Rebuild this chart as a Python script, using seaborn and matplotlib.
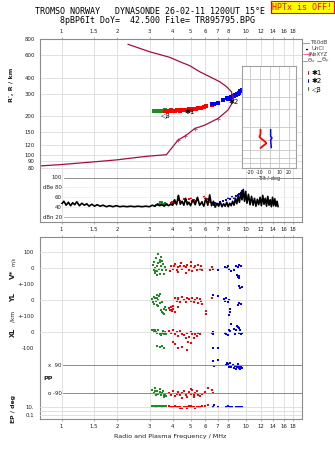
import matplotlib
matplotlib.use("Agg")
import matplotlib.pyplot as plt
import matplotlib.transforms as mtrans
from matplotlib.lines import Line2D
from matplotlib.ticker import NullLocator
import seaborn as sns

sns.set_theme(style="white")
plt.rcParams['font.family'] = ['DejaVu Sans']

# ---------------- data ----------------
freq_ticks = [1, 1.5, 2, 3, 4, 5, 6, 7, 8, 10, 12, 14, 16, 18]
freq_labels = ["1", "1.5", "2", "3", "4", "5", "6", "7", "8", "10", "12", "14", "16", "18"]
height_ticks = [80, 90, 100, 120, 150, 200, 300, 400, 600, 800]
height_labels = ["80", "90", "100", "120", "150", "200", "300", "400", "600", "800"]

# real-height profile (MHz, km)
prof_f = [0.76, 1.0, 1.5, 2.0, 2.49, 3.0, 3.7, 4.28, 4.75, 5.27, 5.97, 7.06, 7.98, 8.49, 8.55,
          8.4, 8.33, 7.83, 7.2, 6.35, 5.6, 4.95, 4.37, 3.85, 3.0, 2.29]
prof_h = [82.5, 84.6, 88.8, 92, 95.6, 98.5, 100.8, 131, 143, 161, 171, 193, 224, 260, 278,
          293, 310, 340, 371, 406, 444, 494, 531, 574, 634, 724]
nexyz_f = [4.28, 4.65, 5.27, 7.06]
nexyz_h = [131, 141, 159, 191]

# ionogram traces (MHz, km)
tr3_f = [3.15, 3.2, 3.25, 3.3, 3.35, 3.4, 3.45, 3.5, 3.55, 3.6, 3.65]
tr3_h = [219, 220, 219, 221, 220, 219, 221, 220, 222, 221, 223]
tr1_f = [3.65, 3.7, 3.75, 3.8, 3.85, 3.9, 3.95, 4.0, 4.1, 4.2, 4.3, 4.4, 4.5, 4.6, 4.7, 4.8,
         4.9, 5.0, 5.1, 5.2, 5.35, 5.5, 5.7, 5.9, 6.1, 6.55, 6.65]
tr1_h = [221, 222, 220, 222, 221, 223, 222, 221, 222, 224, 223, 222, 225, 224, 226, 225,
         227, 226, 228, 229, 230, 231, 234, 238, 240, 246, 248]
tr2_f = [6.56, 6.7, 7.06, 7.5, 7.88, 8.0, 8.1, 8.2, 8.3, 8.4, 8.5, 8.6, 8.7, 8.8, 8.9, 9.0,
         9.1, 9.2, 9.3, 9.4, 9.45]
tr2_h = [249, 251, 255, 266, 276, 272, 279, 275, 285, 282, 290, 287, 295, 292, 300, 298,
         306, 304, 312, 316, 322]

# tilt profiles (deg, km)
tiltx_deg = [-9.5, -9.5, -10.5, -8.8, -4.2, -3.5, -7.0, -9.5]
tiltx_h = [190, 171, 161, 155, 143, 139, 131, 125]
tilty_deg = [1.0, 1.0, 2.4, 1.0, 1.7]
tilty_h = [190, 163, 157, 150, 126]

# amplitude (MHz, dB)
amp_freq = [1.00, 1.03, 1.06, 1.09, 1.12, 1.15, 1.18, 1.21, 1.25, 1.29, 1.33, 1.37, 1.41, 1.46,
            1.51, 1.56, 1.62, 1.68, 1.75, 1.82, 1.90, 1.98, 2.07, 2.16, 2.26, 2.37, 2.48, 2.60,
            2.73, 2.86, 3.00, 3.10, 3.20, 3.30, 3.40, 3.50, 3.60, 3.70, 3.80, 3.90, 4.00, 4.10,
            4.20, 4.30, 4.40, 4.50, 4.60, 4.70, 4.80, 4.90, 5.00, 5.15, 5.30, 5.45, 5.60, 5.75,
            5.90, 6.05, 6.20, 6.35, 6.50, 6.65, 6.80, 6.95, 7.10, 7.25, 7.40, 7.55, 7.70, 7.85,
            8.00, 8.15, 8.30, 8.45, 8.60, 8.75, 8.90, 9.05, 9.20, 9.35, 9.50, 9.65, 9.80, 9.95,
            10.1, 10.3, 10.5, 10.7, 10.9, 11.1, 11.3, 11.5, 11.7, 11.9, 12.1, 12.3, 12.5, 12.7,
            12.9, 13.1, 13.3, 13.5, 13.7, 13.9, 14.1, 14.3, 14.5, 14.7, 14.9]
amp_db = [46, 52, 44, 50, 43, 49, 45, 51, 43, 48, 44, 47, 42, 46,
          42, 45, 42, 44, 41, 43, 41, 43, 41, 42, 41, 42, 41, 42,
          41, 42, 41, 44, 42, 46, 43, 45, 42, 47, 43, 46, 44, 55,
          45, 64, 46, 52, 44, 58, 45, 50, 43, 55, 45, 60, 44, 50,
          42, 58, 44, 65, 43, 52, 40, 48, 42, 50, 41, 47, 42, 50,
          41, 48, 43, 52, 44, 58, 47, 62, 50, 70, 55, 76, 52, 72,
          48, 66, 45, 62, 44, 58, 42, 56, 45, 60, 43, 64, 46, 58,
          42, 62, 44, 55, 41, 60, 43, 57, 42, 52, 41]
db3_f = [3.2, 3.25, 3.3, 3.35, 3.4, 3.45, 3.5, 3.55, 3.6, 3.65, 3.7, 3.75, 3.5, 3.4]
db3_v = [43, 45, 44, 47, 46, 48, 49, 47, 45, 48, 46, 44, 51, 50]
db1_f = [3.9, 3.95, 4.0, 4.05, 4.1, 4.25, 4.3, 4.4, 4.5, 4.6, 4.7, 4.8, 4.9, 5.0, 5.1, 5.2,
         5.3, 5.4, 5.5, 5.8, 5.9, 6.0, 6.2, 6.3, 6.4, 6.5]
db1_v = [48, 50, 47, 52, 49, 55, 60, 53, 51, 57, 54, 50, 56, 58, 53, 55,
         52, 57, 54, 51, 60, 58, 56, 52, 50, 48]
db2_f = [6.7, 6.8, 7.0, 7.2, 7.5, 7.8, 8.0, 8.2, 8.4, 8.6, 8.8, 9.0, 9.2, 9.4, 9.5]
db2_v = [44, 48, 46, 50, 52, 55, 58, 57, 60, 59, 63, 64, 66, 69, 72]

# V* (m/s)
v3_f = [3.12, 3.15, 3.18, 3.2, 3.22, 3.25, 3.28, 3.3, 3.32, 3.35, 3.38, 3.4, 3.42, 3.45, 3.48,
        3.5, 3.55, 3.6, 3.65, 3.7, 3.3, 3.4, 3.2, 3.5]
v3_v = [20, -10, 40, 0, -30, 60, 10, -20, 85, 30, -5, 50, -35, 15, 70,
        -15, 25, -40, 5, -10, -45, 35, -20, 45]
v1_f = [3.85, 3.9, 4.0, 4.05, 4.1, 4.2, 4.25, 4.3, 4.4, 4.45, 4.5, 4.6, 4.7, 4.75, 4.8, 4.9,
        5.0, 5.05, 5.1, 5.2, 5.3, 5.4, 5.5, 5.6, 5.7, 5.8, 6.4, 6.5]
v1_v = [-20, 10, -5, 15, 25, -10, 5, -25, 10, 30, -5, 15, -30, 5, 20, -15,
        10, 40, -20, 0, 15, -10, 20, -5, 10, -15, -15, 5]
v2_f = [6.6, 7.0, 7.7, 7.9, 8.0, 8.1, 8.3, 8.6, 8.8, 9.0, 9.2, 9.4, 8.9, 9.0, 9.1, 9.2]
v2_v = [-5, -10, 5, 0, 15, -5, -20, -10, 10, 5, 20, 15, -45, -55, -62, -50]

# YL (km)
yl3_f = [3.1, 3.12, 3.15, 3.18, 3.2, 3.25, 3.28, 3.3, 3.32, 3.35, 3.38, 3.4, 3.45, 3.5, 3.55,
         3.6, 3.65, 3.7, 3.4, 3.3, 3.5, 3.6]
yl3_v = [5, -10, 20, -25, 10, -5, 30, 15, -40, 0, 25, -20, -60, -75, -80,
         -55, -45, -65, 35, -30, -15, -85]
yl1_f = [3.8, 3.85, 3.9, 3.95, 4.0, 4.1, 4.2, 4.25, 4.3, 4.4, 4.5, 4.6, 4.7, 4.8, 4.9, 5.0,
         5.1, 5.2, 5.3, 5.4, 5.5, 5.6, 5.7, 5.8, 6.05, 6.1, 3.9, 4.0, 4.1, 4.3, 6.5]
yl1_v = [-50, -60, -45, -70, -55, 10, -5, 15, 5, -10, 20, 0, -15, 10, 5, -5,
         15, -10, 0, 10, -20, 5, -5, -25, -70, -90, -65, -40, -75, -45, 10]
yl2_f = [6.6, 7.0, 7.6, 7.7, 7.8, 8.0, 8.1, 8.2, 8.15, 8.1, 9.0, 9.2, 9.4, 9.1, 9.3, 9.5]
yl2_v = [30, 28, 5, -5, 10, -15, 0, -55, -75, -92, -30, -20, -25, 85, 78, 82]

# XL (km)
xl3_f = [3.1, 3.12, 3.15, 3.2, 3.25, 3.3, 3.35, 3.4, 3.45, 3.5, 3.55, 3.6, 3.65, 3.7,
         3.3, 3.4, 3.5, 3.6]
xl3_v = [15, 10, 5, 12, 0, -5, 10, -10, -20, -5, 5, -15, 0, -10,
         -85, -95, -90, -100]
xl1_f = [3.8, 3.9, 4.0, 4.1, 4.2, 4.3, 4.4, 4.5, 4.6, 4.7, 4.8, 4.9, 5.0, 5.1, 5.2, 5.3,
         5.4, 5.5, 5.6, 6.5, 4.0, 4.1, 4.3, 4.5, 4.8, 4.85, 5.0]
xl1_v = [5, -5, 10, -15, 0, -25, 5, -10, -20, -35, -5, -30, 0, -15, -40, -10,
         -25, -5, -15, -5, -60, -75, -100, -95, -110, -60, -70]
xl2_f = [6.6, 6.65, 7.7, 7.8, 8.0, 8.1, 8.2, 8.3, 8.6, 8.7, 8.8, 8.9, 9.0, 9.1, 9.2, 9.3,
         9.4, 9.5, 6.65, 7.0]
xl2_v = [-10, 0, -5, -15, -20, 10, 5, 52, 20, -10, 15, 35, 30, 25, -5, 10,
         -15, -5, -102, -102]

# PP (deg)
pp3_f = [3.1, 3.15, 3.2, 3.25, 3.3, 3.35, 3.4, 3.45, 3.5, 3.55, 3.6, 3.65, 3.7, 3.2, 3.4, 3.6]
pp3_v = [-70, -90, -80, -100, -75, -95, -85, -105, -90, -80, -100, -95, -110, -60, -65, -115]
pp1_f = [3.8, 3.9, 4.0, 4.1, 4.2, 4.3, 4.4, 4.5, 4.6, 4.7, 4.8, 4.9, 5.0, 5.1, 5.2, 5.3,
         5.4, 5.5, 5.6, 5.8, 6.0, 6.2, 6.5, 6.6, 4.5, 5.0, 5.2]
pp1_v = [-90, -100, -80, -110, -95, -85, -105, -90, -75, -100, -115, -85, -95, -70, -105, -90,
         -80, -100, -110, -95, -85, -60, -70, -90, -120, -65, -115]
pp2_f = [6.6, 6.7, 7.0, 7.8, 7.9, 8.0, 8.1, 8.2, 8.3, 8.5, 8.6, 8.7, 8.8, 8.9, 9.0, 9.1,
         9.2, 9.3, 9.4, 9.5]
pp2_v = [115, 85, 120, 90, 105, 95, 80, 100, 75, 90, 70, 85, 65, 80, 95, 70,
         75, 65, 80, 70]

# EP (deg)
ep3_f = [3.1, 3.15, 3.2, 3.25, 3.3, 3.35, 3.4, 3.45, 3.5, 3.55, 3.6, 3.65, 3.7]
ep3_v = [14, 15, 14, 13, 15, 14, 14, 15, 13, 14, 15, 14, 14]
ep1_f = [3.8, 3.9, 4.0, 4.1, 4.2, 4.3, 4.4, 4.5, 4.6, 4.7, 4.8, 4.9, 5.0, 5.1, 5.2, 5.3,
         5.4, 5.5, 5.6, 5.8, 6.0, 6.2, 4.4, 4.8, 5.0]
ep1_v = [14, 12, 8, 15, 10, 9, 13, 7, 11, 12, 8, 14, 10, 9, 12, 7,
         11, 13, 10, 15, 16, 25, 6, 7, 20]
ep2_f = [6.6, 6.7, 7.0, 7.8, 8.0, 8.2, 8.4, 8.8, 8.9, 9.0, 9.1, 9.2, 9.3, 9.4, 9.5]
ep2_v = [13, 30, 12, 13, 14, 12, 13, 11, 10, 12, 9, 11, 10, 12, 13]

# ---------------- styling ----------------
RED, BLUE, GREEN = "#ff0000", "#0000ff", "#1e8c1e"
PROF = "#a50f3c"
PINK = "#e0609a"
GRID = "#dcdcdc"
SPINE = "#8c8c8c"
TXT = "#202020"
TICKFS = 3.9

W, H = 335, 451
fig = plt.figure(figsize=(W / 100, H / 100), dpi=100)
fig.patch.set_facecolor("white")


def add_ax(x0, y0, x1, y1):
    return fig.add_axes([x0 / W, 1 - y1 / H, (x1 - x0) / W, (y1 - y0) / H])


def freq_axis(ax, top=False, bottom=False):
    ax.set_xscale("log")
    ax.set_xlim(0.76, 20)
    ax.set_xticks(freq_ticks)
    ax.set_xticklabels(freq_labels)
    ax.xaxis.set_minor_locator(NullLocator())
    ax.tick_params(axis="x", which="both", top=True, bottom=True, labeltop=top,
                   labelbottom=bottom, length=1.5, width=0.5, color=SPINE,
                   labelsize=TICKFS, labelcolor=TXT, pad=2)


def frame(ax):
    for s in ax.spines.values():
        s.set_color(SPINE)
        s.set_linewidth(0.8)
        s.set_visible(True)


def blank(ax):
    ax.patch.set_alpha(0)
    for s in ax.spines.values():
        s.set_visible(False)


def pts(ax, x, y, c, s=3.5):
    sns.scatterplot(x=x, y=y, color=c, marker="s", s=s, linewidth=0, ax=ax,
                    legend=False, clip_on=False)


# ---------------- top panel ----------------
ax = add_ax(39.5, 38.7, 301.7, 221.7)
freq_axis(ax, top=True, bottom=True)
ax.set_yscale("log")
ax.set_ylim(30.5, 800)
ax.set_yticks(height_ticks)
ax.set_yticklabels(height_labels)
ax.yaxis.set_minor_locator(NullLocator())
ax.tick_params(axis="y", length=1.5, width=0.5, color=SPINE, labelsize=TICKFS,
               labelcolor=TXT, pad=2)
ax.grid(True, color=GRID, lw=0.6)
frame(ax)

sns.lineplot(x=prof_f, y=prof_h, sort=False, estimator=None, color=PROF, lw=0.9, ax=ax)
sns.scatterplot(x=nexyz_f, y=nexyz_h, marker="+", color=PINK, s=10, linewidth=0.7,
                ax=ax, legend=False)
pts(ax, tr3_f, tr3_h, GREEN, 6)
pts(ax, tr1_f, tr1_h, RED, 6)
pts(ax, tr2_f, tr2_h, BLUE, 6)
ax.text(4.65, 215, "✱1", fontsize=5, color="black", va="center", ha="left")
ax.text(8.06, 258, "✱2", fontsize=5, color="black", va="center", ha="left")
ax.text(3.47, 205, "◁3", fontsize=5, color="black", va="center", ha="left")
ax.set_xlabel("")
ax.set_ylabel("")

# tilt inset
ins = add_ax(241.7, 66, 295.7, 168)
ins.set_facecolor("white")
ins.set_yscale("log")
ins.set_ylim(79.6, 491)
ins.set_xlim(-29, 27)
ins.set_yticks(height_ticks)
ins.yaxis.set_minor_locator(NullLocator())
ins.set_xticks([-20, -10, 0, 10, 20])
ins.set_xticklabels(["-20", "-10", "0", "10", "20"])
ins.tick_params(axis="both", length=0, labelleft=False, labelsize=3.4, pad=1.5,
                labelcolor=TXT)
ins.grid(True, color="#c8c8c8", lw=0.6)
for s in ins.spines.values():
    s.set_color("#a0a0a0")
    s.set_linewidth(0.8)
sns.lineplot(x=tiltx_deg, y=tiltx_h, sort=False, estimator=None, color=RED, lw=1.3, ax=ins)
sns.lineplot(x=tilty_deg, y=tilty_h, sort=False, estimator=None, color=BLUE, lw=1.1, ax=ins)
ins.set_ylabel("")
ins.set_xlabel("Tilt / deg", fontsize=3.6, labelpad=0.5, color=TXT)

# dB panel (overlay)
adb = add_ax(39.5, 171.5, 301.7, 221.7)
blank(adb)
adb.set_xscale("log")
adb.set_xlim(0.76, 20)
adb.set_ylim(10.5, 112.5)
adb.set_xticks([])
adb.set_yticks([])
x0f = (64 - 39.5) / 262.2
adb.axhline(100, xmin=x0f, color="#909090", lw=0.7)
for lv in (80, 60, 40):
    adb.axhline(lv, xmin=x0f, color="#ececec", lw=0.5)
adb.axhline(20, xmin=x0f, color="#b4b4e6", lw=0.7)
bt = mtrans.blended_transform_factory(adb.transAxes, adb.transData)
for lv, lab in zip([100, 80, 60, 40, 20], ["100", "dBe 80", "60", "40", "dBn 20"]):
    adb.text((62 - 39.5) / 262.2, lv, lab, transform=bt, ha="right", va="center",
             fontsize=TICKFS, color=TXT,
             bbox=dict(boxstyle="square,pad=0.05", fc="white", ec="none"))
sns.lineplot(x=amp_freq, y=amp_db, sort=False, estimator=None, color="black", lw=1.2, ax=adb)
pts(adb, db3_f, db3_v, GREEN)
pts(adb, db1_f, db1_v, RED)
pts(adb, db2_f, db2_v, BLUE)
adb.set_xlabel("")
adb.set_ylabel("")

# ---------------- lower panel ----------------
lo = add_ax(39.5, 237.3, 301.7, 419)
freq_axis(lo, top=False, bottom=True)
lo.set_yticks([])
lo.grid(True, axis="x", color=GRID, lw=0.6)
frame(lo)
lo.set_xlabel("Radio and Plasma Frequency / MHz", fontsize=4.6, color=TXT, labelpad=4)


def band(y0, y1, ylim, ticks, labels, log=False):
    b = add_ax(39.5, y0, 301.7, y1)
    blank(b)
    b.set_xscale("log")
    b.set_xlim(0.76, 20)
    if log:
        b.set_yscale("log")
    b.set_ylim(*ylim)
    b.set_xticks([])
    b.xaxis.set_minor_locator(NullLocator())
    b.set_yticks(ticks)
    b.set_yticklabels(labels)
    b.yaxis.set_minor_locator(NullLocator())
    b.tick_params(axis="y", length=0, pad=4, labelsize=TICKFS, labelcolor=TXT)
    return b


bv = band(237.3, 284, (-100, 191.9), [100, 0], ["100", "0"])
for lv in (100, 0, -100):
    bv.axhline(lv, color=GRID, lw=0.6)
pts(bv, v3_f, v3_v, GREEN)
pts(bv, v1_f, v1_v, RED)
pts(bv, v2_f, v2_v, BLUE)

by = band(284, 316, (-100, 100), [100, 0], ["+-100", "0"])
by.axhline(0, color=GRID, lw=0.6)
by.axhline(-100, color=GRID, lw=0.6)
pts(by, yl3_f, yl3_v, GREEN)
pts(by, yl1_f, yl1_v, RED)
pts(by, yl2_f, yl2_v, BLUE)

bx = band(316, 348, (-100, 100), [100, 0, -100], ["+-100", "0", "-100"])
bx.axhline(0, color=GRID, lw=0.6)
bx.axhline(-100, color=GRID, lw=0.6)
pts(bx, xl3_f, xl3_v, GREEN)
pts(bx, xl1_f, xl1_v, RED)
pts(bx, xl2_f, xl2_v, BLUE)

bp = band(348, 400, (-135, 199.3), [], [])
bp.axhline(90, xmin=(63 - 39.5) / 262.2, color="#8a8a8a", lw=0.7)
bp.axhline(-90, xmin=(63 - 39.5) / 262.2, color="#8a8a8a", lw=0.7)
bpt = mtrans.blended_transform_factory(bp.transAxes, bp.transData)
bp.text((62 - 39.5) / 262.2, 90, "x  90", transform=bpt, ha="right", va="center",
        fontsize=TICKFS, color=TXT)
bp.text((62 - 39.5) / 262.2, -90, "o -90", transform=bpt, ha="right", va="center",
        fontsize=TICKFS, color=TXT)
pts(bp, pp3_f, pp3_v, GREEN)
pts(bp, pp1_f, pp1_v, RED)
pts(bp, pp2_f, pp2_v, BLUE)

be = band(400, 419, (0.01, 562), [10, 0.1], ["10.", "0.1"], log=True)
for lv in (10, 1, 0.1):
    be.axhline(lv, color=GRID, lw=0.6)
pts(be, ep3_f, ep3_v, GREEN)
pts(be, ep1_f, ep1_v, RED)
pts(be, ep2_f, ep2_v, BLUE)

for b in (bv, by, bx, bp, be):
    b.set_xlabel("")
    b.set_ylabel("")


# ---------------- figure texts ----------------
def ftext(x, y, s, **kw):
    fig.text(x / W, 1 - y / H, s, **kw)


mono = "DejaVu Sans Mono"
ftext(150, 12, "TROMSO NORWAY   DYNASONDE 26-02-11 1200UT 15°E", family=mono,
      fontsize=6, ha="center", va="center", color="black")
ftext(157.5, 20.5, "8pBP6It DoY=  42.500 File= TR895795.BPG", family=mono,
      fontsize=6, ha="center", va="center", color="black")
ftext(302.5, 7.3, "HPTx is OFF!", family=mono, fontsize=6, ha="center", va="center",
      color="#ff0000",
      bbox=dict(boxstyle="square,pad=0.2", fc="#ffff00", ec="#ff0000", lw=0.8))

ftext(12, 85, "R', R / km", rotation=90, fontsize=4.6, weight="bold", ha="center",
      va="center", color=TXT)
ftext(13, 274, "V*", rotation=90, fontsize=5.2, weight="bold", ha="center", va="center",
      color=TXT)
ftext(13, 261, "m/s", rotation=90, fontsize=3.6, ha="center", va="center", color=TXT)
ftext(13, 298, "YL", rotation=90, fontsize=4.8, weight="bold", ha="center", va="center",
      color=TXT)
ftext(13, 316, "/km", rotation=90, fontsize=4.2, ha="center", va="center", color=TXT)
ftext(13, 332, "XL", rotation=90, fontsize=4.8, weight="bold", ha="center", va="center",
      color=TXT)
ftext(43, 379, "PP", fontsize=4.6, weight="bold", ha="left", va="center", color=TXT)
ftext(13, 409, "EP / deg", rotation=90, fontsize=4.4, weight="bold", ha="center",
      va="center", color=TXT)


# legend (outside right)
def fline(x0, x1, y, **kw):
    fig.add_artist(Line2D([x0 / W, x1 / W], [1 - y / H, 1 - y / H],
                          transform=fig.transFigure, **kw))


LFS = 4.0
LC = "#404040"
fline(303, 309, 43, color="#a0a0a0", lw=0.8)
ftext(310, 43, "T60dB", fontsize=LFS, va="center", color=LC)
fline(306, 306.6, 48.5, color="black", lw=1.0)
ftext(311, 48.5, "UnCl", fontsize=LFS, va="center", color=LC)
fline(303, 309, 54, color=PINK, lw=0.6, marker="+", markersize=3, markevery=[1])
ftext(310, 54, "NeXYZ", fontsize=LFS, va="center", color=LC)
fline(303, 307, 60.5, color="#e06060", lw=0.6)
ftext(307, 60.5, r"$\Theta_x$", fontsize=LFS, va="center", color=LC)
fline(317, 321, 60.5, color="#6060e0", lw=0.6)
ftext(321, 60.5, r"$\Theta_y$", fontsize=LFS, va="center", color=LC)
for yy, col, lab in [(73.3, RED, "✱1"), (80.7, BLUE, "✱2"), (89, GREEN, "◁3")]:
    fline(307.5, 308.5, yy, color=col, lw=2.6, solid_capstyle="butt")
    ftext(312, yy, lab, fontsize=5, va="center", color="black")

fig.savefig("out.png", dpi=100, facecolor="white")
